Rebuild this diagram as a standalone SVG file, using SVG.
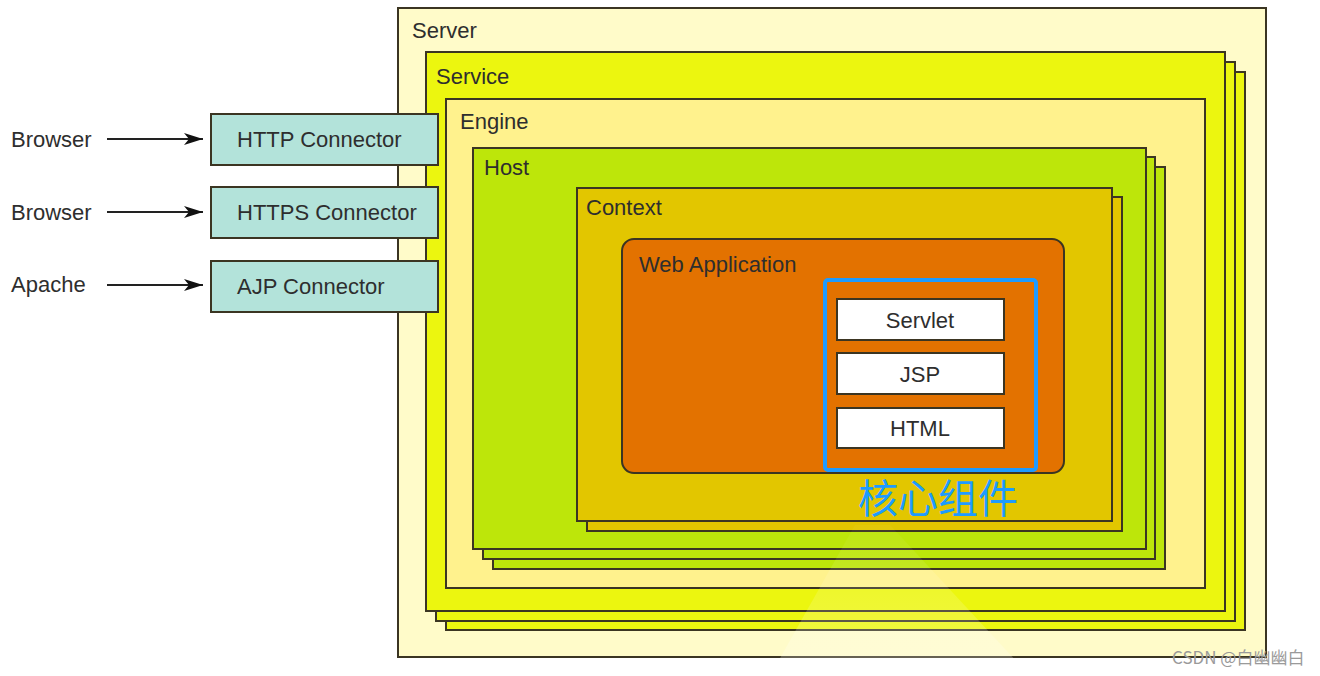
<svg xmlns="http://www.w3.org/2000/svg" width="1320" height="676" viewBox="0 0 1320 676">
<defs>
<style>
.box{stroke:#3b3522;stroke-width:2}
.lbl{font-family:"Liberation Sans",Arial,sans-serif;font-size:22px;fill:#2e2e2e}
.ctr{text-anchor:middle}
.cjk{font-family:"Noto Sans CJK SC","Noto Sans",sans-serif;font-size:40px;fill:#1e9bff}
</style>
<marker id="ah" markerWidth="20" markerHeight="14" refX="19" refY="7" orient="auto" markerUnits="userSpaceOnUse">
<path d="M0,1 L19,7 L0,13 L5,7 Z" fill="#111"/>
</marker>
<linearGradient id="glow" x1="0" y1="0" x2="0" y2="1">
<stop offset="0" stop-color="#ffffff" stop-opacity="0.03"/>
<stop offset="1" stop-color="#ffffff" stop-opacity="0.25"/>
</linearGradient>
</defs>
<rect width="1320" height="676" fill="#ffffff"/>
<g id="server">
<rect class="box" x="398" y="8" width="868" height="649" fill="#fffbc9"/>
<text class="lbl" x="412" y="38">Server</text>
</g>
<g id="service">
<rect class="box" x="446" y="72" width="799" height="558" fill="#ecf60f"/>
<rect class="box" x="436" y="62" width="799" height="559" fill="#ecf60f"/>
<rect class="box" x="426" y="52" width="799" height="559" fill="#ecf60f"/>
<text class="lbl" x="436" y="84">Service</text>
</g>
<g id="engine">
<rect class="box" x="446" y="99" width="759" height="489" fill="#fff28d"/>
<text class="lbl" x="460" y="129">Engine</text>
</g>
<g id="host">
<rect class="box" x="493" y="167" width="672" height="402" fill="#bde60a"/>
<rect class="box" x="483" y="157" width="672" height="402" fill="#bde60a"/>
<rect class="box" x="473" y="148" width="673" height="401" fill="#bde60a"/>
<text class="lbl" x="484" y="175">Host</text>
</g>
<g id="context">
<rect class="box" x="587" y="197" width="535" height="334" fill="#e2c600"/>
<rect class="box" x="577" y="188" width="535" height="333" fill="#e2c600"/>
<text class="lbl" x="586" y="215">Context</text>
</g>
<g id="webapp">
<rect class="box" x="622" y="239" width="442" height="234" rx="12" fill="#e37200"/>
<text class="lbl" x="639" y="272">Web Application</text>
</g>
<g id="core">
<rect x="825" y="280" width="211" height="190" rx="3" fill="none" stroke="#1e9bff" stroke-width="4"/>
<text class="cjk" x="858" y="513">核心组件</text>
</g>
<g id="servlet">
<rect class="box" x="837" y="299" width="167" height="41" fill="#ffffff" stroke-width="1.5"/>
<text class="lbl ctr" x="920" y="328">Servlet</text>
</g>
<g id="jsp">
<rect class="box" x="837" y="353" width="167" height="41" fill="#ffffff" stroke-width="1.5"/>
<text class="lbl ctr" x="920" y="382">JSP</text>
</g>
<g id="html">
<rect class="box" x="837" y="408" width="167" height="40" fill="#ffffff" stroke-width="1.5"/>
<text class="lbl ctr" x="920" y="436">HTML</text>
</g>
<polygon points="855,525 890,525 1030,676 770,676" fill="url(#glow)"/>
<g id="http">
<rect class="box" x="211" y="114" width="227" height="51" fill="#b3e3da"/>
<text class="lbl" x="237" y="147">HTTP Connector</text>
</g>
<g id="https">
<rect class="box" x="211" y="187" width="227" height="51" fill="#b3e3da"/>
<text class="lbl" x="237" y="220">HTTPS Connector</text>
</g>
<g id="ajp">
<rect class="box" x="211" y="261" width="227" height="51" fill="#b3e3da"/>
<text class="lbl" x="237" y="294">AJP Connector</text>
</g>
<g id="browser1"><text class="lbl" x="11" y="147">Browser</text></g>
<g id="browser2"><text class="lbl" x="11" y="220">Browser</text></g>
<g id="apache"><text class="lbl" x="11" y="292">Apache</text></g>
<g id="connectors" stroke="#222" stroke-width="1.8" fill="none">
<line x1="107" y1="139" x2="203" y2="139" marker-end="url(#ah)"/>
<line x1="107" y1="212" x2="203" y2="212" marker-end="url(#ah)"/>
<line x1="107" y1="285" x2="203" y2="285" marker-end="url(#ah)"/>
</g>
<text x="1172" y="664" font-family="'Noto Sans CJK SC','Liberation Sans',sans-serif" font-size="17" fill="#9a9a9a">CSDN @白幽幽白</text>
</svg>
